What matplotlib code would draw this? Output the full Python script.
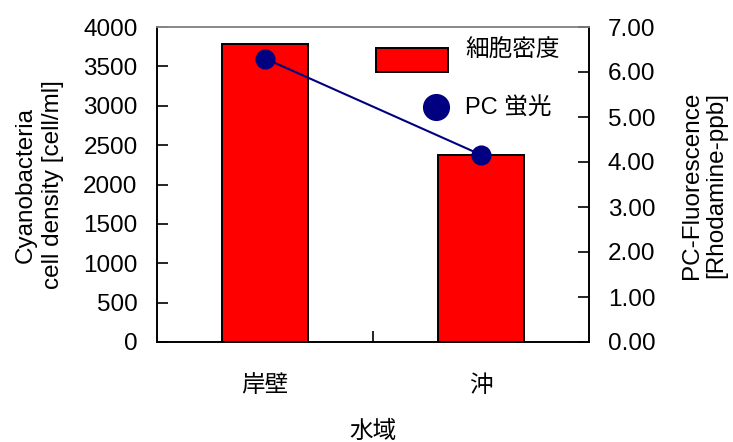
import matplotlib
matplotlib.use("Agg")
import matplotlib.pyplot as plt
from matplotlib.patches import Rectangle
from matplotlib.lines import Line2D
from matplotlib.ticker import FixedLocator

plt.rcParams["font.family"] = ["Liberation Sans", "Noto Sans CJK JP", "DejaVu Sans"]

# 水域ごとのデータ
sites = ["岸壁", "沖"]
cell_density = [3780, 2375]      # cell/ml
pc_fluor = [6.30, 4.16]          # Rhodamine-ppb

BAR_RED = "#FF0000"
NAVY = "#000080"
FS = 17.5
FS_JP = 17

W, H = 733, 442
fig = plt.figure(figsize=(W / 100, H / 100), dpi=100)
ax = fig.add_axes([157 / W, 1 - 342 / H, 432 / W, 315 / H])
ax2 = ax.twinx()

x = range(len(sites))
ax.bar(x, cell_density, width=0.4, color=BAR_RED, edgecolor="black",
       linewidth=1.4, zorder=2)
ax2.plot(x, pc_fluor, color=NAVY, linewidth=1.5, marker="o",
         markersize=13.5, markerfacecolor=NAVY, markeredgecolor=NAVY, zorder=3)

ax.set_xlim(-0.5, 1.5)
ax.set_ylim(0, 4000)
ax2.set_ylim(0, 7)

ax.set_yticks(range(0, 4001, 500))
ax2.set_yticks(range(0, 8))
ax2.set_yticklabels([f"{v:.2f}" for v in range(0, 8)])

ax.set_xticks(list(x))
ax.set_xticklabels(sites)
ax.xaxis.set_minor_locator(FixedLocator([0.5]))
ax.tick_params(axis="x", which="major", length=0, pad=24, labelsize=FS_JP)
ax.tick_params(axis="x", which="minor", direction="in", length=8, width=1.2)
ax.tick_params(axis="y", direction="in", length=8, width=1.2, pad=14,
               labelsize=FS)
ax2.tick_params(axis="y", direction="in", length=8, width=1.2, pad=13.5,
                labelsize=FS)

for a in (ax, ax2):
    for side in ("left", "right", "bottom"):
        a.spines[side].set_linewidth(1.2)
        a.spines[side].set_color("black")
    a.spines["top"].set_color("#888888")
    a.spines["top"].set_linewidth(1.2)

# 軸ラベル
fig.text(39 / W, 1 - 185 / H, "Cyanobacteria\ncell density [cell/ml]",
         rotation=90, ha="center", va="center", fontsize=FS, linespacing=1.3)
fig.text(704 / W, 1 - 185 / H, "PC-Fluorescence\n[Rhodamine-ppb]",
         rotation=90, ha="center", va="center", fontsize=FS, linespacing=1.12)
fig.text(373 / W, 1 - 432 / H, "水域", ha="center", va="center",
         fontsize=FS_JP)

# 凡例
ax2.add_patch(Rectangle((0.507, 0.858), 0.167, 0.076, transform=ax2.transAxes,
                        facecolor=BAR_RED, edgecolor="black", linewidth=1.4,
                        clip_on=False, zorder=4))
ax2.add_line(Line2D([0.646], [0.746], transform=ax2.transAxes, marker="o",
                    markersize=18.5, color=NAVY, linestyle="none", zorder=4))
ax2.text(0.713, 0.925, "細胞密度", transform=ax2.transAxes, fontsize=FS_JP,
         va="center", ha="left")
ax2.text(0.713, 0.742, "PC 蛍光", transform=ax2.transAxes, fontsize=FS_JP,
         va="center", ha="left")

fig.savefig("out.png", dpi=100)
